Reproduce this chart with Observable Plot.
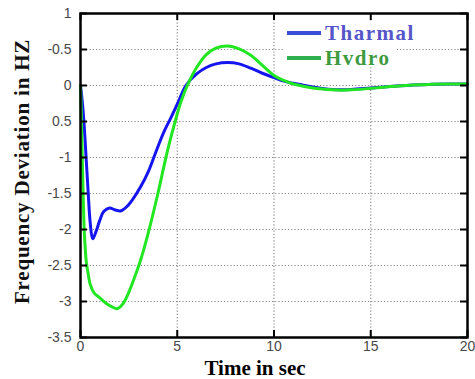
<!DOCTYPE html>
<html>
<head>
<meta charset="utf-8">
<script src="https://cdn.jsdelivr.net/npm/d3@7"></script>
<script src="https://cdn.jsdelivr.net/npm/@observablehq/plot@0.6"></script>
<style>
  body { margin: 0; background: #fff; }
  #wrap { position: relative; width: 475px; height: 379px; overflow: hidden; }
  #legend { position: absolute; left: 284px; top: 21px; width: 112px; height: 46px; background: #fff;
    font-family: "Liberation Serif", serif; font-weight: bold; font-size: 21px; letter-spacing: 1.5px; }
  .item { position: absolute; left: 3px; display: flex; align-items: center; height: 24px; }
  .swatch { width: 34px; height: 4px; margin-right: 4px; }
</style>
</head>
<body>
<div id="wrap"></div>
<script>
const seriesNames = ["Tharmal", "Hvdro"];
const seriesColors = ["#1515f0", "#22e622"];
const legendLineColors = ["#3a4fd6", "#2fb04f"];
const legendTextColors = ["#5656c8", "#3f9a3f"];

const thermalT = [0, 0.1, 0.2, 0.3, 0.4, 0.5, 0.63, 0.8, 1.0, 1.2, 1.5, 1.8, 2.1, 2.4, 2.7, 3.1, 3.5, 3.9, 4.3, 4.65, 5.0, 5.45, 6.0, 6.5, 7.0, 7.6, 8.2, 8.8, 9.4, 10, 10.5, 11, 11.5, 12, 12.5, 13, 13.5, 14, 15, 16, 17, 18, 19, 20];
const thermalY = [0, -0.25, -0.6, -1.05, -1.5, -1.9, -2.13, -2.03, -1.87, -1.75, -1.70, -1.73, -1.74, -1.68, -1.58, -1.41, -1.2, -0.92, -0.65, -0.46, -0.26, 0, 0.16, 0.25, 0.30, 0.32, 0.30, 0.24, 0.17, 0.11, 0.06, 0.03, 0.005, -0.02, -0.04, -0.055, -0.06, -0.055, -0.035, -0.015, 0.005, 0.015, 0.02, 0.02];

const hydroT = [0, 0.05, 0.1, 0.15, 0.2, 0.3, 0.4, 0.5, 0.7, 1.0, 1.3, 1.6, 1.9, 2.2, 2.5, 2.8, 3.1, 3.5, 4.0, 4.5, 4.9, 5.2, 5.55, 6.0, 6.5, 7.0, 7.6, 8.2, 8.8, 9.4, 10, 10.5, 11, 11.5, 12, 12.5, 13, 13.5, 14, 15, 16, 17, 18, 19, 20];
const hydroY = [0, -0.5, -1.1, -1.65, -2.05, -2.45, -2.62, -2.76, -2.88, -2.95, -3.02, -3.07, -3.10, -3.03, -2.87, -2.66, -2.43, -2.05, -1.5, -0.9, -0.49, -0.22, 0.02, 0.25, 0.43, 0.52, 0.55, 0.51, 0.42, 0.28, 0.14, 0.07, 0.02, -0.01, -0.035, -0.05, -0.06, -0.065, -0.06, -0.04, -0.015, 0.005, 0.015, 0.02, 0.02];

const xTicks = [0, 5, 10, 15, 20];
const xTickLabels = ["0", "5", "10", "15", "20"];
const yTicks = [1, 0.5, 0, -0.5, -1, -1.5, -2, -2.5, -3, -3.5];
const yTickLabels = ["1", "-0.5", "0", "0.5", "-1", "-1.5", "-2", "-2.5", "-3", "-3.5"];
const xTitle = "Time in sec";
const yTitle = "Frequency Deviation in HZ";

const thermal = thermalT.map((t, i) => ({t, v: thermalY[i]}));
const hydro = hydroT.map((t, i) => ({t, v: hydroY[i]}));

const W = 475, H = 379, mt = 13, mb = 42, ml = 80, mr = 8;
const fw = W - ml - mr, fh = H - mt - mb, tl = 7;
const innerX = xTicks.filter(d => d > 0 && d < 20);
const innerY = yTicks.filter(d => d > -3.5 && d < 1);

const chart = Plot.plot({
  width: W, height: H,
  marginTop: mt, marginBottom: mb, marginLeft: ml, marginRight: mr,
  style: {background: "#fff", overflow: "visible"},
  x: {domain: [0, 20]},
  y: {domain: [-3.5, 1]},
  marks: [
    Plot.gridX(innerX, {stroke: "#8a8a8a", strokeOpacity: 1, strokeDasharray: "1.2,2", strokeWidth: 1.2}),
    Plot.gridY(innerY, {stroke: "#8a8a8a", strokeOpacity: 1, strokeDasharray: "1.2,2", strokeWidth: 1.2}),
    Plot.line(thermal, {x: "t", y: "v", stroke: seriesColors[0], strokeWidth: 3, curve: "catmull-rom"}),
    Plot.line(hydro, {x: "t", y: "v", stroke: seriesColors[1], strokeWidth: 3, curve: "catmull-rom"}),
    Plot.tickX(xTicks, {x: d => d, stroke: "#000", strokeWidth: 2, insetTop: fh - tl}),
    Plot.tickX(xTicks, {x: d => d, stroke: "#000", strokeWidth: 2, insetBottom: fh - tl}),
    Plot.tickY(yTicks, {y: d => d, stroke: "#000", strokeWidth: 2, insetRight: fw - tl}),
    Plot.tickY(yTicks, {y: d => d, stroke: "#000", strokeWidth: 2, insetLeft: fw - tl}),
    Plot.frame({stroke: "#000", strokeWidth: 2.5}),
    Plot.axisX(xTicks, {tickSize: 0, tickPadding: 4, label: null, tickFormat: d => xTickLabels[xTicks.indexOf(d)],
      fontFamily: "Liberation Sans, Arial, sans-serif", fontSize: 14, fill: "#484848"}),
    Plot.axisY(yTicks, {tickSize: 0, tickPadding: 9, label: null, tickFormat: d => yTickLabels[yTicks.indexOf(d)],
      fontFamily: "Liberation Sans, Arial, sans-serif", fontSize: 14, fill: "#484848"}),
    Plot.text([xTitle], {text: d => d, frameAnchor: "bottom", textAnchor: "middle", lineAnchor: "middle", dx: -19, dy: 31,
      fontFamily: "Liberation Serif, serif", fontWeight: "bold", fontSize: 21, fill: "#000"}),
    Plot.text([yTitle], {text: d => d, frameAnchor: "left", textAnchor: "middle", lineAnchor: "middle", dx: -58, dy: -4, rotate: -90,
      fontFamily: "Liberation Serif, serif", fontWeight: "bold", fontSize: 21, fill: "#111"})
  ]
});

d3.select(chart).selectAll("text").filter(function() { return this.textContent === yTitle; })
  .style("letter-spacing", "0.8px");

const wrap = document.getElementById("wrap");
wrap.appendChild(chart);

const legend = document.createElement("div");
legend.id = "legend";
seriesNames.forEach((name, i) => {
  const item = document.createElement("div");
  item.className = "item";
  item.style.top = (i * 25) + "px";
  const sw = document.createElement("div");
  sw.className = "swatch";
  sw.style.background = legendLineColors[i];
  const tx = document.createElement("span");
  tx.textContent = name;
  tx.style.color = legendTextColors[i];
  item.appendChild(sw);
  item.appendChild(tx);
  legend.appendChild(item);
});
wrap.appendChild(legend);
</script>
</body>
</html>
